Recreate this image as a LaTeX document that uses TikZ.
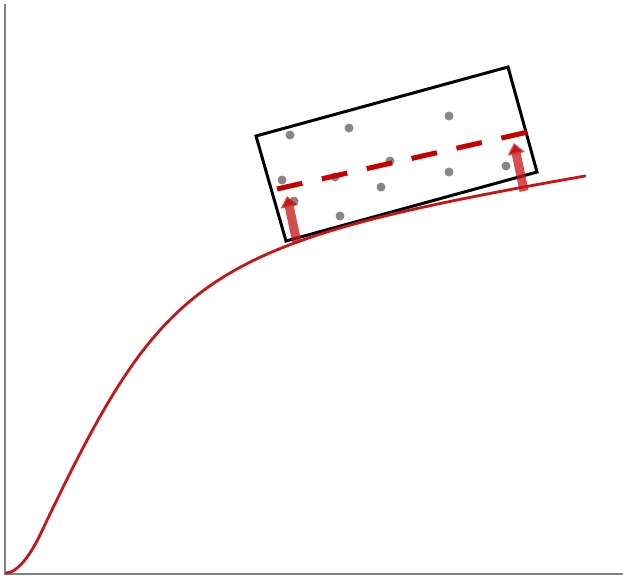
\documentclass[tikz,border=0pt]{standalone}
\usetikzlibrary{arrows.meta}
\definecolor{curvered}{RGB}{200,20,20}
\definecolor{dashred}{RGB}{200,0,0}
\definecolor{axisgray}{RGB}{130,130,130}
\definecolor{dotgray}{RGB}{135,135,135}
\tikzset{
  axisline/.style={draw=axisgray,line width=2pt},
  fitcurve/.style={draw=curvered,line width=2.8pt,line cap=round},
  boxline/.style={draw=black,line width=3pt,line join=miter},
  shiftline/.style={draw=dashred,line width=5pt,dash pattern=on 26pt off 20pt},
  shiftarrow/.style={draw=curvered,draw opacity=0.75,line width=9pt,-{Triangle[length=11pt,width=17pt]}},
  pt/.style={fill=dotgray}
}
\begin{document}
\begin{tikzpicture}[x=1pt,y=-1pt]
\useasboundingbox (0,0) rectangle (623,576);
\fill[white] (0,0) rectangle (623,576);
% axes
\coordinate (O) at (5,574);
\coordinate (Ytop) at (5,4);
\coordinate (Xend) at (623,574);
\draw[axisline] (Ytop) -- (O) -- (Xend);
% box
\coordinate (b1) at (256,136);
\coordinate (b2) at (508,67);
\coordinate (b3) at (537,172);
\coordinate (b4) at (286,241);
\draw[boxline] (b1) -- (b2) -- (b3) -- (b4) -- cycle;
% dots
\foreach \p in {(290,135),(349,128),(449,116),(282,180),(294,201),(335,177),(381,187),(390,161),(449,172),(506,166),(340,216)}
  \fill[pt] \p circle (4.5);
% arrows
\coordinate (a1s) at (297,243);
\coordinate (a1e) at (287,196);
\coordinate (a2s) at (524,191);
\coordinate (a2e) at (514,143);
\draw[shiftarrow] (a1s) -- (a1e);
\draw[shiftarrow] (a2s) -- (a2e);
% dashed line
\coordinate (d1) at (277,189);
\coordinate (d2) at (528,132);
\draw[shiftline] (d1) -- (d2);
% curve
\coordinate (c0) at (6,573);
\coordinate (c1) at (40,535);
\coordinate (c2) at (585,176);
\draw[fitcurve] (c0) .. controls (18,573) and (32,552) .. (c1)
  .. controls (165,272) and (200,244) .. (c2);
\end{tikzpicture}
\end{document}
